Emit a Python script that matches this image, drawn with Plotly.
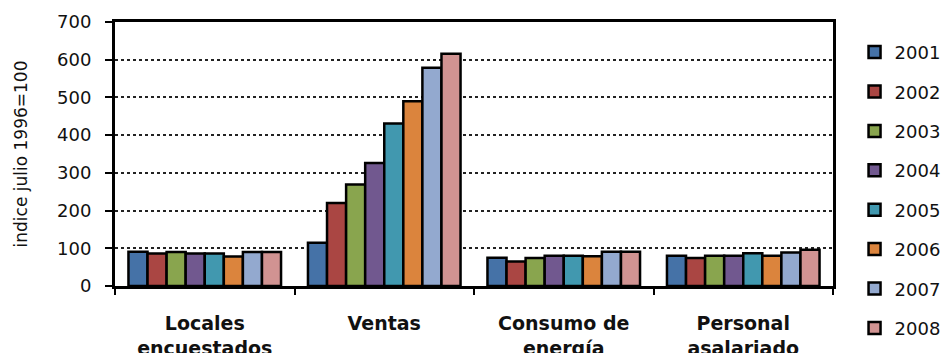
import plotly.graph_objects as go

categories = ["Locales<br>encuestados", "Ventas", "Consumo de<br>energía", "Personal<br>asalariado"]
years = ["2001", "2002", "2003", "2004", "2005", "2006", "2007", "2008"]

# Index values (July 1996 = 100) per year, ordered as the categories above
v2001 = [91, 115, 75, 80]
v2002 = [86, 220, 65, 74]
v2003 = [90, 269, 74, 80]
v2004 = [86, 326, 80, 80]
v2005 = [86, 431, 80, 87]
v2006 = [78, 490, 79, 80]
v2007 = [90, 579, 91, 89]
v2008 = [90, 616, 91, 96]

series = [v2001, v2002, v2003, v2004, v2005, v2006, v2007, v2008]
colors = ["#4572A7", "#AA4643", "#89A54E", "#71588F",
          "#4198AF", "#DB843D", "#93A9CF", "#D19392"]

FONT = "DejaVu Sans, Arial, sans-serif"

fig = go.Figure()
for year, vals, col in zip(years, series, colors):
    fig.add_trace(go.Bar(
        name=year, x=categories, y=vals, legendgroup=year,
        marker=dict(color=col, line=dict(color="#000000", width=2.5)),
    ))

fig.update_layout(
    width=941, height=353,
    margin=dict(l=115, r=108, t=22, b=67, autoexpand=False),
    paper_bgcolor="white", plot_bgcolor="white",
    barmode="group", bargap=0.15, bargroupgap=0,
    font=dict(family=FONT, size=18, color="#111111"),
    showlegend=True,
    legend=dict(
        x=1.03, xanchor="left", y=0.955, yanchor="top",
        font=dict(family=FONT, size=18, color="#111111"),
        tracegroupgap=13, bgcolor="rgba(0,0,0,0)",
        borderwidth=0, maxheight=600,
    ),
)

fig.update_xaxes(
    type="category", automargin=False,
    showline=True, linecolor="#000000", linewidth=3, mirror=True,
    ticks="outside", tickson="boundaries", ticklen=6, tickwidth=2, tickcolor="#000000",
    tickfont=dict(family=FONT, size=19, color="#111111", weight="bold"),
    ticklabelstandoff=18,
    showgrid=False,
)

fig.update_yaxes(
    range=[0, 700], dtick=100, automargin=False,
    showline=True, linecolor="#000000", linewidth=3, mirror=True,
    ticks="outside", ticklen=7, tickwidth=2, tickcolor="#000000",
    tickfont=dict(family=FONT, size=18, color="#111111"),
    ticklabelstandoff=10,
    showgrid=True, gridcolor="#222222", gridwidth=2, griddash="dot",
    zeroline=False,
    title=dict(text="indice julio 1996=100",
               font=dict(family=FONT, size=17, color="#111111"), standoff=26),
)

fig.write_html("out.html")
